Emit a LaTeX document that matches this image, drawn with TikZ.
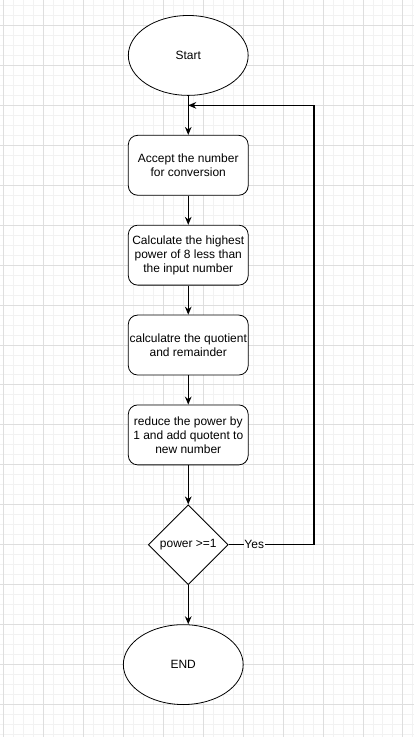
\documentclass[tikz,border=0pt]{standalone}
\usepackage{fontspec}
\setmainfont{Liberation Sans}
\usetikzlibrary{shapes.geometric,arrows.meta}
\tikzset{
  txt/.style={font=\fontsize{9}{10.5}\selectfont},
  flowbox/.style={txt, draw, line width=0.6pt, rounded corners=7pt, minimum width=90pt, minimum height=45pt, align=center, inner sep=1pt, fill=white},
  terminal/.style={txt, draw, line width=0.6pt, ellipse, minimum width=90pt, minimum height=60pt, inner sep=0pt, fill=white},
  decision/.style={txt, draw, line width=0.6pt, diamond, minimum width=60pt, minimum height=60pt, inner sep=0pt, fill=white},
  flow/.style={line width=0.9pt, -{Stealth[length=6pt,width=5pt]}},
  yeslabel/.style={txt, fill=white, inner sep=0.5pt},
  gridminor/.style={line width=0.75pt, black!5},
  gridmajor/.style={line width=0.75pt, black!13}
}
\begin{document}
\begin{tikzpicture}[x=0.75pt,y=-0.75pt]
  %%%%% GRID %%%%%
  \fill[white] (0,0) rectangle (414,737);
  \foreach \gx in {3,13,...,413} \draw[gridminor] (\gx,0) -- (\gx,737);
  \foreach \gy in {5,15,...,735} \draw[gridminor] (0,\gy) -- (414,\gy);
  \foreach \gx in {3,43,...,403} \draw[gridmajor] (\gx,0) -- (\gx,737);
  \foreach \gy in {25,65,...,705} \draw[gridmajor] (0,\gy) -- (414,\gy);
  \useasboundingbox (0,0) rectangle (414,737);

  %%%%% NODES %%%%%
  \node[terminal] (start) at (188, 55) {Start};
  \node[flowbox] (accept) at (188, 165) {Accept the number\\for conversion};
  \node[flowbox] (highest) at (188, 255) {Calculate the highest\\power of 8 less than\\the input number};
  \node[flowbox] (quotient) at (188, 345) {calculatre the quotient\\and remainder};
  \node[flowbox] (reduce) at (188, 435) {reduce the power by\\1 and add quotent to\\new number};
  \node[decision] (check) at (188, 545) {power >=1};
  \node[terminal] (finish) at (183, 665) {END};

  \coordinate (yesturn) at (314, 545);
  \coordinate (backtop) at (314, 105);
  \coordinate (backin) at (start.south |- backtop);

  %%%%% EDGES %%%%%
  \draw[flow] (start) -- (accept);
  \draw[flow] (accept) -- (highest);
  \draw[flow] (highest) -- (quotient);
  \draw[flow] (quotient) -- (reduce);
  \draw[flow] (reduce) -- (check);
  \draw[flow] (check.south) -- (check.south |- finish.north);
  \draw[flow] (check.east) -- node[yeslabel, pos=0.3] {Yes} (yesturn) -- (backtop) -- (backin);
\end{tikzpicture}
\end{document}
